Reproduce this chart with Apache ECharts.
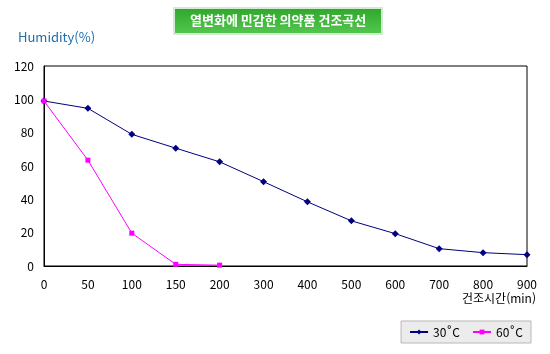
<!DOCTYPE html>
<html lang="ko">
<head>
    <meta charset="UTF-8">
    <title>echarts</title>
    <style>
        html, body { margin: 0; padding: 0; background: #fff; }
        #div_line { width: 550px; height: 354px; }
    </style>
</head>
<body>
    <div id="div_line"></div>
</body>
<script src="https://cdn.jsdelivr.net/npm/echarts@6/dist/echarts.min.js"></script>
<script type="text/javascript">
    // 건조시간(min) 카테고리
    var timeData = ['0', '50', '100', '150', '200', '300', '400', '500', '600', '700', '800', '900'];
    // 30°C 습도
    var data30 = [99, 94.6, 79, 70.7, 62.5, 50.6, 38.5, 27.1, 19.4, 10.4, 8, 6.8];
    // 60°C 습도 (200분까지만)
    var data60 = [99, 63.5, 19.7, 1, 0.5];
    var yTicks = [0, 20, 40, 60, 80, 100, 120];

    var font = "'Noto Sans CJK KR', 'DejaVu Sans', sans-serif";

    var echart = echarts.init(document.getElementById('div_line'));
    var option = {
        backgroundColor: '#fff',
        animation: false,
        title: {
            text: '열변화에 민감한 의약품 건조곡선',
            left: 174,
            top: 8,
            backgroundColor: {
                type: 'linear', x: 0, y: 0, x2: 0, y2: 1,
                colorStops: [{ offset: 0, color: '#2fa52b' }, { offset: 1, color: '#55c94f' }]
            },
            borderColor: '#d3ead3',
            borderWidth: 2,
            padding: [6, 16, 7, 16],
            textStyle: {
                color: '#fff',
                fontSize: 13,
                fontWeight: 'bold',
                fontFamily: font
            }
        },
        graphic: [{
            type: 'text',
            left: 18,
            top: 31,
            style: {
                text: 'Humidity(%)',
                fill: '#1b6eb0',
                font: '13px ' + font
            }
        }, {
            type: 'text',
            right: 14,
            top: 292,
            style: {
                text: '건조시간(min)',
                fill: '#000',
                font: '12px ' + font
            }
        }],
        legend: {
            right: 19,
            bottom: 11,
            itemWidth: 18,
            itemHeight: 6,
            itemGap: 12,
            backgroundColor: '#ececec',
            borderColor: '#b8b8b8',
            borderWidth: 1,
            padding: [5, 8, 5, 8],
            textStyle: { color: '#000', fontSize: 12, fontFamily: font },
            data: ['30˚C', '60˚C']
        },
        grid: {
            left: 44,
            right: 23,
            top: 66,
            bottom: 88,
            show: true,
            borderColor: '#000',
            borderWidth: 1
        },
        xAxis: {
            type: 'category',
            boundaryGap: false,
            data: timeData,
            axisLine: { lineStyle: { color: '#000', width: 1 } },
            axisTick: { show: false },
            axisLabel: { color: '#000', fontSize: 12, fontFamily: font, margin: 12 },
            splitLine: { show: false }
        },
        yAxis: {
            type: 'value',
            min: yTicks[0],
            max: yTicks[yTicks.length - 1],
            interval: 20,
            axisLine: { show: true, lineStyle: { color: '#000', width: 1 } },
            axisTick: { show: false },
            axisLabel: { color: '#000', fontSize: 12, fontFamily: font, margin: 10 },
            splitLine: { show: false }
        },
        series: [{
            name: '30˚C',
            type: 'line',
            data: data30,
            symbol: 'diamond',
            symbolSize: 7,
            color: '#000080',
            lineStyle: { width: 1, color: '#000080' },
            itemStyle: { color: '#000080' }
        }, {
            name: '60˚C',
            type: 'line',
            data: data60,
            symbol: 'rect',
            symbolSize: 5,
            color: '#ff00ff',
            lineStyle: { width: 1, color: '#ff00ff' },
            itemStyle: { color: '#ff00ff' }
        }]
    };
    echart.setOption(option);
</script>
</html>
